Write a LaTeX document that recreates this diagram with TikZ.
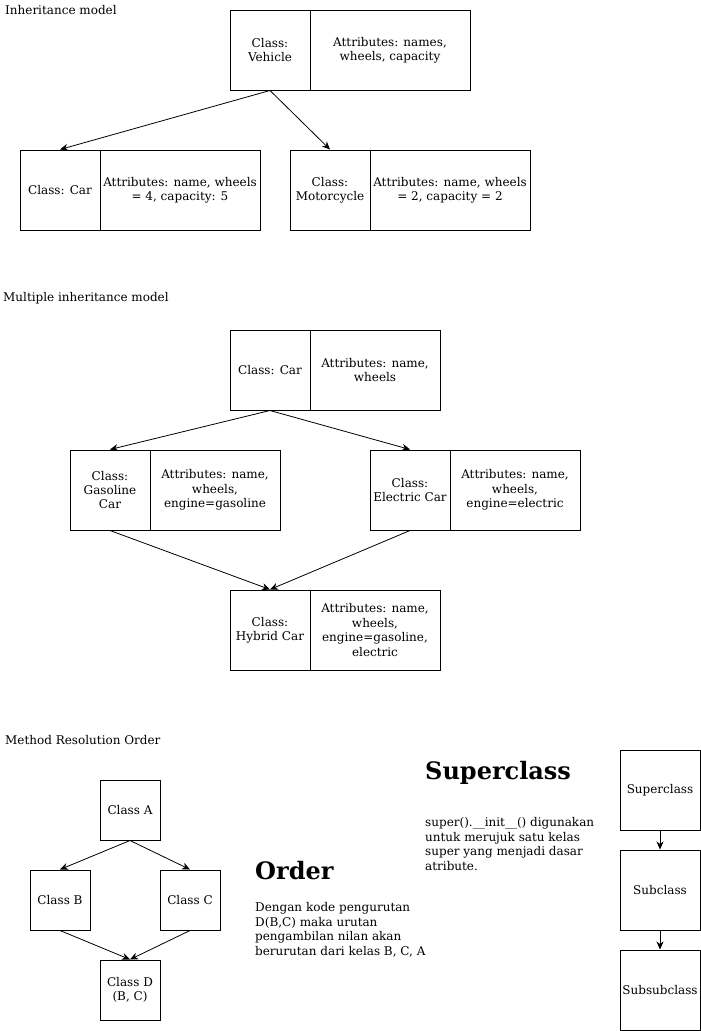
\documentclass[tikz,border=0pt]{standalone}
\usepackage{fontspec}
\setmainfont{DejaVu Serif}
\usetikzlibrary{arrows.meta}
\begin{document}
\begin{tikzpicture}[x=1pt,y=-1pt,
  every node/.style={font=\fontsize{12}{14.4}\selectfont},
  box/.style={draw=black,line width=1pt,align=center,inner sep=0pt,minimum height=80pt},
  cbox/.style={box,minimum width=80pt},
  abox/.style={box},
  sq/.style={box,minimum width=60pt,minimum height=60pt},
  lbl/.style={anchor=west,inner sep=0pt},
  head/.style={anchor=base west,inner sep=0pt,font=\fontsize{24}{28}\selectfont\bfseries},
  para/.style={anchor=base west,inner sep=0pt,align=left},
  arr/.style={line width=0.8pt,-{Stealth[length=8pt,width=7pt,inset=2.5pt]}}
]
\useasboundingbox (0,0) rectangle (701,1031);

% Inheritance model
\node[lbl] (t1) at (5,10) {Inheritance model};
\node[cbox] (veh) at (270,50) {Class:\\Vehicle};
\node[abox,minimum width=160pt] (veha) at (390,50) {Attributes: names,\\wheels, capacity};
\node[cbox] (car) at (60,190) {Class: Car};
\node[abox,minimum width=160pt] (cara) at (180,190) {Attributes: name, wheels\\= 4, capacity: 5};
\node[cbox] (moto) at (330,190) {Class:\\Motorcycle};
\node[abox,minimum width=160pt] (motoa) at (450,190) {Attributes: name, wheels\\= 2, capacity = 2};
\draw[arr] (veh.south) -- (car.north);
\draw[arr] (veh.south) -- (moto.north);

% Multiple inheritance model
\node[lbl] (t2) at (3,298) {Multiple inheritance model};
\node[cbox] (mcar) at (270,370) {Class: Car};
\node[abox,minimum width=130pt] (mcara) at (375,370) {Attributes: name,\\wheels};
\node[cbox] (gas) at (110,490) {Class:\\Gasoline\\Car};
\node[abox,minimum width=130pt] (gasa) at (215,490) {Attributes: name,\\wheels,\\engine=gasoline};
\node[cbox] (ele) at (410,490) {Class:\\Electric Car};
\node[abox,minimum width=130pt] (elea) at (515,490) {Attributes: name,\\wheels,\\engine=electric};
\node[cbox] (hyb) at (270,630) {Class:\\Hybrid Car};
\node[abox,minimum width=130pt] (hyba) at (375,630) {Attributes: name,\\wheels,\\engine=gasoline,\\electric};
\draw[arr] (mcar.south) -- (gas.north);
\draw[arr] (mcar.south) -- (ele.north);
\draw[arr] (gas.south) -- (hyb.north);
\draw[arr] (ele.south) -- (hyb.north);

% Method Resolution Order
\node[lbl] (t3) at (5,740) {Method Resolution Order};
\node[sq] (ca) at (130,810) {Class A};
\node[sq] (cb) at (60,900) {Class B};
\node[sq] (cc) at (190,900) {Class C};
\node[sq] (cd) at (130,990) {Class D\\(B, C)};
\draw[arr] (ca.south) -- (cb.north);
\draw[arr] (ca.south) -- (cc.north);
\draw[arr] (cb.south) -- (cd.north);
\draw[arr] (cc.south) -- (cd.north);

\node[head] (ho) at (255,879) {Order};
\node[para] (po) at (255,955) {Dengan kode pengurutan\\D(B,C) maka urutan\\pengambilan nilan akan\\berurutan dari kelas B, C, A};

\node[head] (hs) at (425,779) {Superclass};
\node[para] (ps) at (425,870) {super().\_\_init\_\_() digunakan\\untuk merujuk satu kelas\\super yang menjadi dasar\\atribute.};

\node[cbox] (sup) at (660,790) {Superclass};
\node[cbox] (sub) at (660,890) {Subclass};
\node[cbox] (ssub) at (660,990) {Subsubclass};
\draw[arr] (sup.south) -- (sub.north);
\draw[arr] (sub.south) -- (ssub.north);
\end{tikzpicture}
\end{document}
